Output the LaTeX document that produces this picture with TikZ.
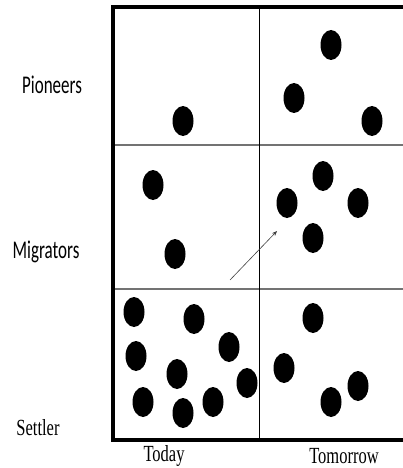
\documentclass[tikz,border=0pt]{standalone}
\usepackage{fontspec}
\setmainfont{Liberation Serif}
\newfontfamily\labelsans{Carlito}
\usetikzlibrary{arrows.meta}

\tikzset{
  sanslabel/.style={font=\labelsans\fontsize{17}{17}\selectfont, yscale=1.5},
  seriflabel/.style={font=\fontsize{16.5}{16.5}\selectfont, yscale=1.4},
}

\begin{document}
\begin{tikzpicture}[x=1pt,y=-1pt]
\clip (0,0) rectangle (403,468);
% rejilla
\draw[line width=2.2pt, black!55] (113,145) -- (410,145);
\draw[line width=2.2pt, black!55] (113,289) -- (410,289);
\draw[line width=0.8pt] (259,7) -- (259,440);
\draw[line width=3.2pt] (420,7) -- (113,7) -- (113,440) -- (420,440);
% puntos
\foreach \x/\y in {183/121, 331/45, 294/98, 372/121,
                   153/185, 175/254, 323/176, 287/203, 358/203, 313/238,
                   134/312, 194/319, 229/347, 136/356, 177/374, 247/383,
                   143/402, 183/413, 213/402,
                   313/318, 284/368, 358/386, 331/402} {
    \fill (\x,\y) ellipse [x radius=10.5, y radius=15];
}
% flecha
\coordinate (tail) at (230,280);
\coordinate (head) at (277,231);
\draw[-{Stealth[length=5pt,width=4pt]}, line width=0.6pt, black!75] (tail) -- (head);
% etiquetas
\node[sanslabel] (pioneers) at (52,85) {Pioneers};
\node[sanslabel] (migrators) at (46,252) {Migrators};
\node[seriflabel] (settler) at (38,428) {Settler};
\node[seriflabel] (today) at (164,456) {Today};
\node[seriflabel] (tomorrow) at (344,456) {Tomorrow};
\end{tikzpicture}
\end{document}
